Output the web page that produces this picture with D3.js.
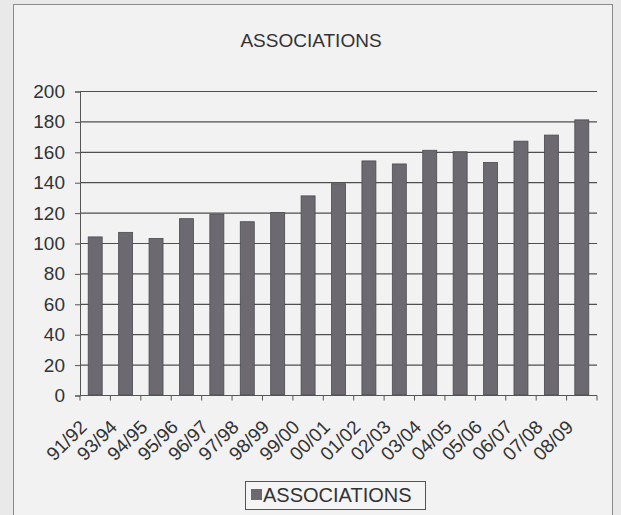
<!DOCTYPE html>
<html>
<head>
<meta charset="utf-8">
<script src="https://cdn.jsdelivr.net/npm/d3@7"></script>
<style>
  body { margin: 0; background: #e9e9ea; }
  svg { display: block; }
  text { font-family: Arial, "Liberation Sans", sans-serif; fill: #333; }
</style>
</head>
<body>
<svg id="chart" width="621" height="515"></svg>
<script>
var seasons = ["91/92", "93/94", "94/95", "95/96", "96/97", "97/98", "98/99", "99/00",
  "00/01", "01/02", "02/03", "03/04", "04/05", "05/06", "06/07", "07/08", "08/09"];
var associations = [104, 107, 103, 116, 119, 114, 120, 131, 139, 154, 152, 161, 160, 153, 167, 171, 181];
var yTicks = [0, 20, 40, 60, 80, 100, 120, 140, 160, 180, 200];
var seriesName = "ASSOCIATIONS";

var plotLeft = 80, plotRight = 597, plotTop = 91, plotBottom = 395;

var chart = d3.select("#chart");

// outer frame of the chart
chart.append("rect")
  .attr("x", 13.5).attr("y", 4.5)
  .attr("width", 599).attr("height", 530)
  .attr("fill", "#f2f2f3")
  .attr("stroke", "#8a8a8a");

var x = d3.scaleBand().domain(seasons).range([plotLeft, plotRight]).paddingInner(0.54).paddingOuter(0.27);
var y = d3.scaleLinear().domain([0, 200]).range([plotBottom, plotTop]);

// gridlines
chart.append("g")
  .selectAll("line")
  .data(yTicks.filter(function (d) { return d > 0; }))
  .enter()
  .append("line")
  .attr("x1", plotLeft).attr("x2", plotRight)
  .attr("y1", function (d) { return y(d) + 0.5; })
  .attr("y2", function (d) { return y(d) + 0.5; })
  .attr("stroke", "#4f4f4f")
  .attr("stroke-width", 1.2);

// bars
chart.append("g")
  .selectAll("rect")
  .data(associations)
  .enter()
  .append("rect")
  .attr("x", function (d, i) { return x(seasons[i]); })
  .attr("y", function (d) { return y(d); })
  .attr("width", x.bandwidth())
  .attr("height", function (d) { return plotBottom - y(d); })
  .attr("fill", "#6c6a70")
  .attr("stroke", "#4a4a50")
  .attr("stroke-width", 0.8);

// y axis
var yAxis = chart.append("g")
  .attr("transform", "translate(" + plotLeft + ",0.5)")
  .call(d3.axisLeft(y).tickValues(yTicks).tickSize(5).tickPadding(10));
yAxis.select(".domain").attr("stroke", "#555");
yAxis.selectAll(".tick line").attr("stroke", "#555");
yAxis.selectAll("text").style("font-size", "19px").attr("fill", "#333");

// x axis: line + ticks between categories
var xAxis = chart.append("g").attr("transform", "translate(0," + (plotBottom + 0.5) + ")");
xAxis.append("line").attr("x1", plotLeft).attr("x2", plotRight).attr("stroke", "#555").attr("stroke-width", 1.2);
xAxis.selectAll("line.tk")
  .data(d3.range(seasons.length + 1))
  .enter()
  .append("line")
  .attr("class", "tk")
  .attr("x1", function (i) { return plotLeft + i * x.step(); })
  .attr("x2", function (i) { return plotLeft + i * x.step(); })
  .attr("y1", 0).attr("y2", 5)
  .attr("stroke", "#555");

xAxis.selectAll("text")
  .data(seasons)
  .enter()
  .append("text")
  .text(function (d) { return d; })
  .attr("text-anchor", "end")
  .attr("dy", "0.35em")
  .attr("transform", function (d) {
    return "translate(" + (x(d) + x.bandwidth() / 2 - 12) + ",28) rotate(-45)";
  })
  .style("font-size", "19px");

// title
chart.append("text")
  .text(seriesName)
  .attr("x", 311).attr("y", 47)
  .attr("text-anchor", "middle")
  .style("font-size", "19px");

// legend
var legend = chart.append("g");
legend.append("rect")
  .attr("x", 245.5).attr("y", 481.5)
  .attr("width", 180).attr("height", 28)
  .attr("fill", "#f4f4f5")
  .attr("stroke", "#555");
legend.append("rect")
  .attr("x", 251).attr("y", 489)
  .attr("width", 11).attr("height", 11)
  .attr("fill", "#6c6a70");
legend.append("text")
  .text(seriesName)
  .attr("x", 263).attr("y", 502)
  .style("font-size", "20px");
</script>
</body>
</html>
